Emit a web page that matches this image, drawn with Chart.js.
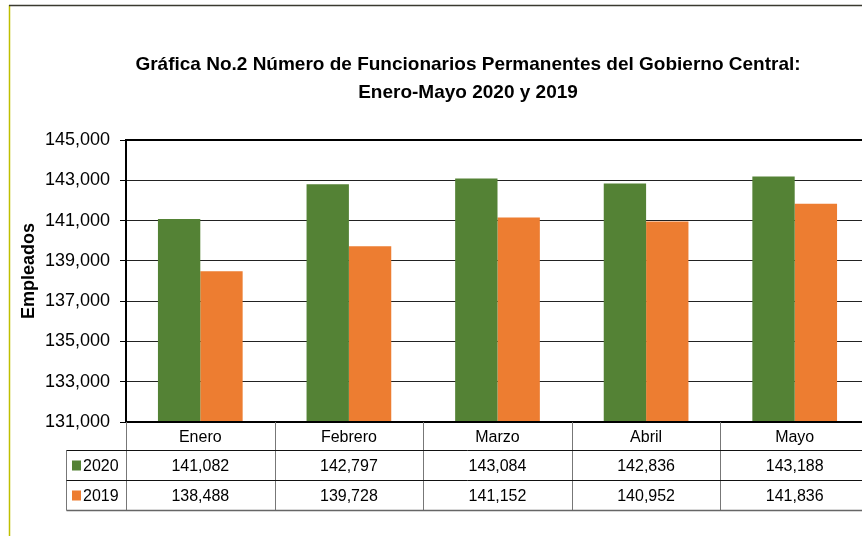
<!DOCTYPE html>
<html>
<head>
<meta charset="utf-8">
<script src="https://cdn.jsdelivr.net/npm/chart.js@4.4.1/dist/chart.umd.min.js"></script>
<style>
  html, body { margin: 0; padding: 0; background: #fff; overflow: hidden; }
  #wrap { position: relative; width: 870px; height: 536px; }
</style>
</head>
<body>
<div id="wrap"><canvas id="chart"></canvas></div>
<script>
const months = ['Enero', 'Febrero', 'Marzo', 'Abril', 'Mayo'];
const seriesNames = ['2020', '2019'];
const values2020 = [141082, 142797, 143084, 142836, 143188];
const values2019 = [138488, 139728, 141152, 140952, 141836];
const titleLines = ['Gráfica No.2 Número de Funcionarios Permanentes del Gobierno Central:', 'Enero-Mayo 2020 y 2019'];
const yTitle = 'Empleados';

const green = '#548235';
const orange = '#ED7D31';
const FONT = "'Liberation Sans', Arial, sans-serif";

const fmt = v => v.toLocaleString('en-US');

// frame, titles, plot border and the data table under the bars
const decor = {
	id: 'decor',
	afterDraw(chart) {
		const ctx = chart.ctx;
		const area = chart.chartArea;
		const x = chart.scales.x;
		const step = area.width / months.length;
		ctx.save();

		// outer frame
		ctx.strokeStyle = '#bfbf00';
		ctx.lineWidth = 1.5;
		ctx.beginPath();
		ctx.moveTo(9.5, 5);
		ctx.lineTo(9.5, 536);
		ctx.stroke();
		ctx.strokeStyle = '#3a3a30';
		ctx.beginPath();
		ctx.moveTo(9, 5.5);
		ctx.lineTo(chart.width, 5.5);
		ctx.stroke();

		// title
		ctx.fillStyle = '#000';
		ctx.font = 'bold 19px ' + FONT;
		ctx.textAlign = 'center';
		ctx.textBaseline = 'middle';
		ctx.fillText(titleLines[0], 468, 65);
		ctx.fillText(titleLines[1], 468, 93);

		// y axis title
		ctx.save();
		ctx.translate(29, 271);
		ctx.rotate(-Math.PI / 2);
		ctx.font = 'bold 18px ' + FONT;
		ctx.fillText(yTitle, 0, 0);
		ctx.restore();

		// top and bottom of plot
		ctx.strokeStyle = '#000';
		ctx.lineWidth = 2;
		ctx.beginPath();
		ctx.moveTo(area.left, area.top);
		ctx.lineTo(area.right, area.top);
		ctx.moveTo(area.left - 1, area.bottom);
		ctx.lineTo(area.right, area.bottom);
		ctx.stroke();

		// table
		const r0 = area.bottom, r1 = 450.5, r2 = 480.5, r3 = 510.5;
		const legL = 66.5;
		ctx.lineWidth = 1;
		ctx.strokeStyle = '#777';
		ctx.beginPath();
		for (let i = 0; i <= months.length; i++) {
			const bx = Math.round(area.left + i * step) + 0.5;
			ctx.moveTo(bx, r0);
			ctx.lineTo(bx, r3);
		}
		ctx.moveTo(legL, r1);
		ctx.lineTo(legL, r3);
		ctx.stroke();

		ctx.strokeStyle = '#111';
		ctx.beginPath();
		ctx.moveTo(legL, r1);
		ctx.lineTo(area.right, r1);
		ctx.moveTo(legL, r2);
		ctx.lineTo(area.right, r2);
		ctx.stroke();
		ctx.strokeStyle = '#666';
		ctx.lineWidth = 1.5;
		ctx.beginPath();
		ctx.moveTo(legL, r3);
		ctx.lineTo(area.right, r3);
		ctx.stroke();

		ctx.font = '16px ' + FONT;
		ctx.fillStyle = '#000';
		ctx.textAlign = 'center';
		ctx.textBaseline = 'middle';
		const rows = [values2020, values2019];
		months.forEach((m, i) => {
			const cx = x.getPixelForValue(i);
			ctx.fillText(m, cx, (r0 + r1) / 2 + 1);
			ctx.fillText(fmt(rows[0][i]), cx, (r1 + r2) / 2 + 1);
			ctx.fillText(fmt(rows[1][i]), cx, (r2 + r3) / 2 + 1);
		});

		// legend keys
		const colors = [green, orange];
		ctx.textAlign = 'left';
		seriesNames.forEach((s, j) => {
			const cy = j === 0 ? (r1 + r2) / 2 : (r2 + r3) / 2;
			ctx.fillStyle = colors[j];
			ctx.fillRect(72, cy - 5, 9, 10);
			ctx.fillStyle = '#000';
			ctx.fillText(s, 83, cy + 1);
		});
		ctx.restore();
	}
};

new Chart(document.getElementById('chart'), {
	type: 'bar',
	data: {
		labels: months,
		datasets: [
			{ label: seriesNames[0], data: values2020, backgroundColor: green, borderWidth: 0 },
			{ label: seriesNames[1], data: values2019, backgroundColor: orange, borderWidth: 0 }
		]
	},
	options: {
		responsive: true,
		maintainAspectRatio: false,
		animation: false,
		layout: { padding: { top: 140, bottom: 114, left: 0, right: 1 } },
		datasets: { bar: { categoryPercentage: 0.57, barPercentage: 1 } },
		plugins: {
			legend: { display: false },
			tooltip: { enabled: false }
		},
		scales: {
			x: {
				display: false
			},
			y: {
				min: 131000,
				max: 145000,
				afterFit(scale) { scale.width = 126; },
				ticks: {
					stepSize: 2000,
					color: '#000',
					padding: 10,
					font: { family: FONT, size: 18 },
					callback: v => fmt(v)
				},
				grid: {
					drawTicks: true,
					tickLength: 6,
					tickColor: '#000',
					tickBorderDash: [],
					color: ctx => (ctx.tick && (ctx.tick.value === 131000 || ctx.tick.value === 145000)) ? 'rgba(0,0,0,0)' : '#222',
					borderDash: [1, 1]
				},
				border: { display: true, color: '#000', width: 2 }
			}
		}
	},
	plugins: [decor]
});
</script>
</body>
</html>
